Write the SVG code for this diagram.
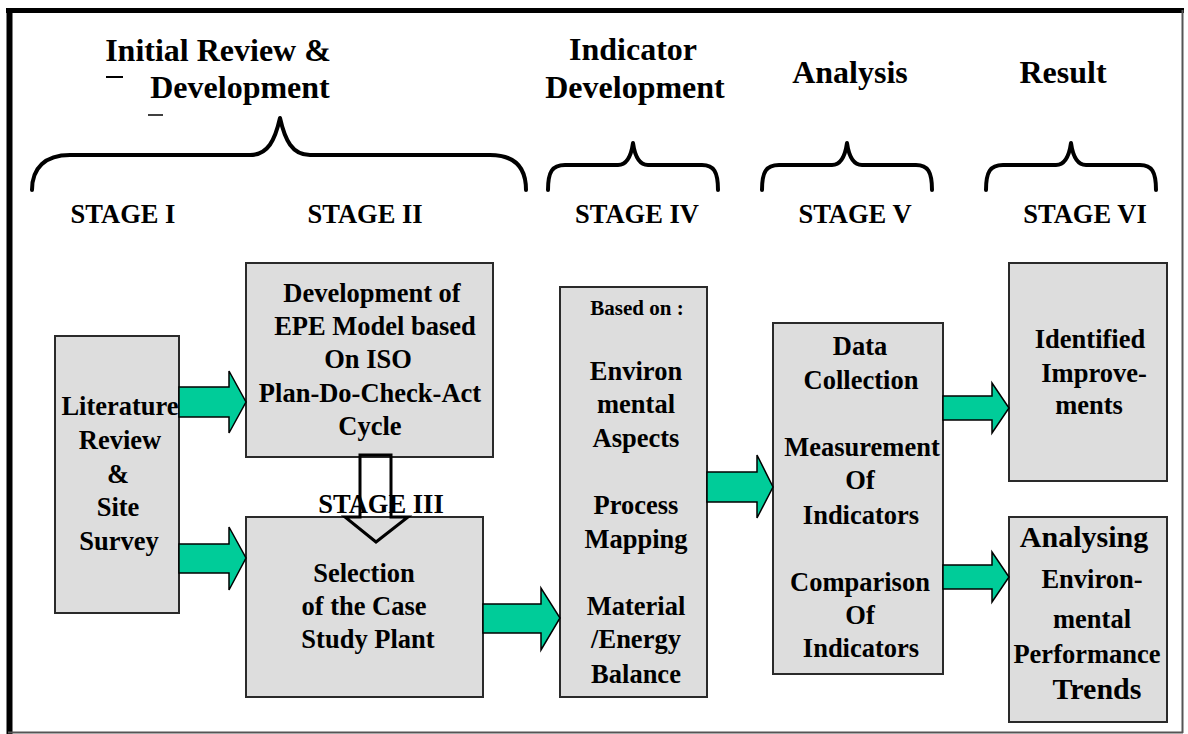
<svg xmlns="http://www.w3.org/2000/svg" width="1188" height="734" viewBox="0 0 1188 734" font-family="Liberation Serif, Times New Roman, serif" font-weight="bold">
  <defs>
    <style>
      .box { fill: #dddddd; stroke: #2a2a2a; stroke-width: 2; }
      .brace { fill: none; stroke: #000; stroke-width: 4; stroke-linecap: round; stroke-linejoin: round; }
      .green { fill: #00cc99; stroke: #000; stroke-width: 1.5; stroke-linejoin: miter; }
      .hollow { fill: none; stroke: #000; stroke-width: 3; stroke-linejoin: miter; }
    </style>
  </defs>

  <!-- frame -->
  <rect x="0" y="0" width="1188" height="734" fill="#ffffff"/>
  <g id="frame">
    <line x1="6" y1="10.5" x2="1184" y2="10.5" stroke="#000" stroke-width="5"/>
    <line x1="9.5" y1="8" x2="9.5" y2="734" stroke="#000" stroke-width="6"/>
    <line x1="1182.5" y1="10" x2="1182.5" y2="733" stroke="#555" stroke-width="2"/>
    <line x1="8" y1="732.5" x2="1183" y2="732.5" stroke="#555" stroke-width="2"/>
  </g>

  <!-- phase headings -->
  <g id="headings" font-size="32" text-anchor="middle" fill="#000">
    <text font-family="Liberation Serif" x="218" y="61">Initial Review &#38;</text>
    <text font-family="Liberation Serif" x="240" y="98">Development</text>
    <line x1="106" y1="77" x2="123" y2="77" stroke="#000" stroke-width="2"/>
    <line x1="148" y1="115" x2="163" y2="115" stroke="#000" stroke-width="1.5"/>
    <text font-family="Liberation Serif" x="633" y="60">Indicator</text>
    <text font-family="Liberation Serif" x="635" y="98">Development</text>
    <text font-family="Liberation Serif" x="850" y="83">Analysis</text>
    <text font-family="Liberation Serif" x="1063" y="83">Result</text>
  </g>

  <!-- braces -->
  <g id="braces">
    <path class="brace" d="M32,190 C32,168 45,155 70,155 L250,155 C268,155 275,140 280,118 C285,140 292,155 310,155 L490,155 C515,155 526,168 526,190"/>
    <path class="brace" d="M548,190 C548,172 552,165 565,165 L618,165 C627,165 631,157 633,143 C635,157 639,165 648,165 L702,165 C714,165 718,172 718,190"/>
    <path class="brace" d="M762,190 C762,172 766,165 779,165 L832,165 C841,165 845,157 847,143 C849,157 853,165 862,165 L916,165 C928,165 932,172 932,190"/>
    <path class="brace" d="M986,190 C986,172 990,165 1003,165 L1056,165 C1065,165 1069,157 1071,143 C1073,157 1077,165 1086,165 L1140,165 C1152,165 1156,172 1156,190"/>
  </g>

  <!-- stage labels -->
  <g id="stages" font-size="26.5" text-anchor="middle" fill="#000">
    <text font-family="Liberation Serif" x="123" y="223">STAGE I</text>
    <text font-family="Liberation Serif" x="365" y="223">STAGE II</text>
    <text font-family="Liberation Serif" x="637" y="223">STAGE IV</text>
    <text font-family="Liberation Serif" x="855" y="223">STAGE V</text>
    <text font-family="Liberation Serif" x="1085" y="223">STAGE VI</text>
  </g>

  <!-- process boxes -->
  <g id="literature" font-size="26.5" text-anchor="middle" fill="#000">
    <rect class="box" x="55" y="336" width="124" height="277"/>
    <text font-family="Liberation Serif" x="120" y="415">Literature</text>
    <text font-family="Liberation Serif" x="120" y="449">Review</text>
    <text font-family="Liberation Serif" x="118" y="483">&#38;</text>
    <text font-family="Liberation Serif" x="118" y="516">Site</text>
    <text font-family="Liberation Serif" x="119" y="550">Survey</text>
  </g>

  <g id="epe-model" font-size="26.5" text-anchor="middle" fill="#000">
    <rect class="box" x="246" y="263" width="247" height="194"/>
    <text font-family="Liberation Serif" x="372" y="302">Development of</text>
    <text font-family="Liberation Serif" x="375" y="335">EPE Model based</text>
    <text font-family="Liberation Serif" x="368" y="368">On ISO</text>
    <text font-family="Liberation Serif" x="370" y="402">Plan-Do-Check-Act</text>
    <text font-family="Liberation Serif" x="370" y="435">Cycle</text>
  </g>

  <g id="selection" font-size="26.5" text-anchor="middle" fill="#000">
    <rect class="box" x="246" y="517" width="237" height="180"/>
    <text font-family="Liberation Serif" x="364" y="582">Selection</text>
    <text font-family="Liberation Serif" x="364" y="615">of the Case</text>
    <text font-family="Liberation Serif" x="368" y="648">Study Plant</text>
  </g>

  <g id="stage-iii" font-size="26.5" text-anchor="middle" fill="#000">
    <text font-family="Liberation Serif" x="381" y="513">STAGE III</text>
  </g>

  <g id="indicators" font-size="26.5" text-anchor="middle" fill="#000">
    <rect class="box" x="560" y="287" width="147" height="410"/>
    <text font-family="Liberation Serif" font-size="21" x="637" y="315">Based on :</text>
    <text font-family="Liberation Serif" x="636" y="380">Environ</text>
    <text font-family="Liberation Serif" x="636" y="413">mental</text>
    <text font-family="Liberation Serif" x="636" y="447">Aspects</text>
    <text font-family="Liberation Serif" x="636" y="514">Process</text>
    <text font-family="Liberation Serif" x="636" y="548">Mapping</text>
    <text font-family="Liberation Serif" x="636" y="615">Material</text>
    <text font-family="Liberation Serif" x="636" y="648">/Energy</text>
    <text font-family="Liberation Serif" x="636" y="683">Balance</text>
  </g>

  <g id="analysis" font-size="26.5" text-anchor="middle" fill="#000">
    <rect class="box" x="773" y="323" width="170" height="351"/>
    <text font-family="Liberation Serif" x="860" y="355">Data</text>
    <text font-family="Liberation Serif" x="861" y="389">Collection</text>
    <text font-family="Liberation Serif" x="862" y="456">Measurement</text>
    <text font-family="Liberation Serif" x="860" y="489">Of</text>
    <text font-family="Liberation Serif" x="861" y="524">Indicators</text>
    <text font-family="Liberation Serif" x="860" y="591">Comparison</text>
    <text font-family="Liberation Serif" x="860" y="624">Of</text>
    <text font-family="Liberation Serif" x="861" y="657">Indicators</text>
  </g>

  <g id="improvements" font-size="26.5" text-anchor="middle" fill="#000">
    <rect class="box" x="1009" y="263" width="158" height="218"/>
    <text font-family="Liberation Serif" x="1090" y="348">Identified</text>
    <text font-family="Liberation Serif" x="1094" y="382">Improve-</text>
    <text font-family="Liberation Serif" x="1089" y="414">ments</text>
  </g>

  <g id="trends" font-size="26.5" text-anchor="middle" fill="#000">
    <rect class="box" x="1009" y="517" width="158" height="205"/>
    <text font-family="Liberation Serif" font-size="30" x="1084" y="547">Analysing</text>
    <text font-family="Liberation Serif" x="1092" y="588">Environ-</text>
    <text font-family="Liberation Serif" x="1092" y="628">mental</text>
    <text font-family="Liberation Serif" x="1087" y="663">Performance</text>
    <text font-family="Liberation Serif" font-size="30" x="1097" y="699">Trends</text>
  </g>

  <!-- connectors -->
  <g id="connectors">
    <polygon class="green" points="179,387 229,387 229,371 246,402 229,433 229,417 179,417"/>
    <polygon class="green" points="179,544 229,544 229,527 246,558 229,590 229,573 179,573"/>
    <polygon class="green" points="483,604 541,604 541,588 560,618 541,650 541,633 483,633"/>
    <polygon class="green" points="707,472 757,472 757,455 773,487 757,518 757,502 707,502"/>
    <polygon class="green" points="943,396 992,396 992,383 1009,408 992,433 992,420 943,420"/>
    <polygon class="green" points="943,565 992,565 992,552 1009,577 992,602 992,589 943,589"/>
    <polygon class="hollow" points="360,455 391,455 391,517 408,517 376,542 345,517 360,517"/>
  </g>
</svg>
